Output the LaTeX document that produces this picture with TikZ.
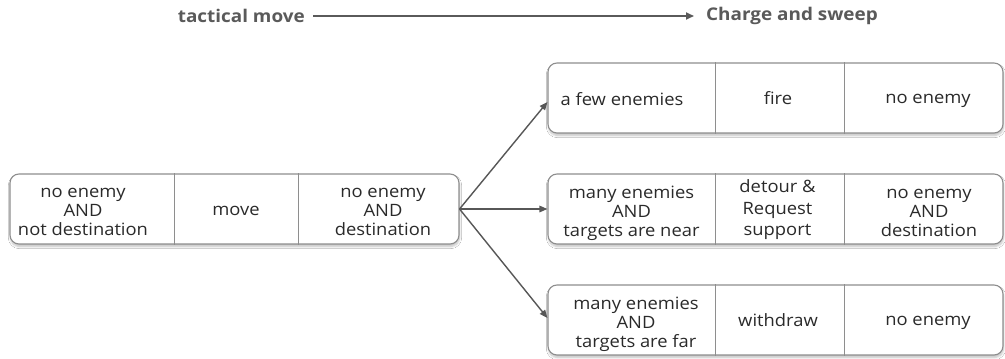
\documentclass[tikz,border=0pt]{standalone}
\usepackage{fontspec}
\setmainfont{Open Sans}[FakeStretch=1.08]
\usetikzlibrary{arrows.meta,shadows.blur}
\definecolor{boxgray}{HTML}{8E8E8E}
\definecolor{txtgray}{HTML}{2A2A2A}
\definecolor{arrgray}{HTML}{575757}
\definecolor{headgray}{HTML}{5A5A5A}
\begin{document}
\begin{tikzpicture}[x=1pt,y=-1pt,
  rowbox/.style={draw=boxgray, line width=1.1pt, rounded corners=9pt, fill=white,
    minimum height=70pt, inner sep=0pt,
    blur shadow={shadow xshift=0.5pt, shadow yshift=-2.5pt, shadow opacity=25, shadow blur steps=6}},
  divider/.style={draw=boxgray, line width=1.1pt},
  cell/.style={align=center, font=\fontsize{17}{19}\selectfont, text=txtgray, inner sep=0pt},
  conn/.style={draw=arrgray, line width=1.4pt, -{Triangle[length=8pt,width=6.5pt]}},
  head/.style={font=\fontsize{17.5}{19}\selectfont\bfseries, text=headgray, inner ysep=0pt},
  flow/.style={draw=headgray, line width=1.9pt, -{Triangle[length=8pt,width=7pt]}}
]
\useasboundingbox[fill=white] (0,0) rectangle (1005,359);

% heading: progression of the behaviour
\node[head, anchor=east, inner xsep=8pt] (tm) at (313,16) {tactical move};
\node[head, anchor=west, inner xsep=12pt] (cs) at (694,16) {Charge and sweep};
\draw[flow] (tm.east) -- (cs.west);

% rows
\node[rowbox, minimum width=449pt] (L)  at (234.5,209) {};
\node[rowbox, minimum width=455pt] (R1) at (775.5,98)  {};
\node[rowbox, minimum width=455pt] (R2) at (775.5,209) {};
\node[rowbox, minimum width=455pt] (R3) at (775.5,320) {};

% cell dividers
\foreach \r/\a/\b in {L/165/289, R1/168/297, R2/168/297, R3/168/297}{
  \draw[divider] ([xshift=\a pt]\r.north west) -- ([xshift=\a pt]\r.south west);
  \draw[divider] ([xshift=\b pt]\r.north west) -- ([xshift=\b pt]\r.south west);
}

% left row
\node[cell] (l1) at (83,212)  {no enemy\\AND\\not destination};
\node[cell] (l2) at (236,211) {move};
\node[cell] (l3) at (383,212) {no enemy\\AND\\destination};

% top right row
\node[cell] (a1) at (622,99) {a few enemies};
\node[cell] (a2) at (778,98) {fire};
\node[cell] (a3) at (928,101) {no enemy};

% middle right row
\node[cell] (b1) at (631.5,213) {many enemies\\AND\\targets are near};
\node[cell, font=\fontsize{17}{21.5}\selectfont] (b2) at (777.5,210) {detour \&\\Request\\support};
\node[cell] (b3) at (929,213) {no enemy\\AND\\destination};

% bottom right row
\node[cell] (c1) at (636,324) {many enemies\\AND\\targets are far};
\node[cell] (c2) at (778,320) {withdraw};
\node[cell] (c3) at (928,323) {no enemy};

% branching connectors
\draw[conn] (L.east) -- ([yshift=-4pt]R1.west);
\draw[conn] (L.east) -- (R2.west);
\draw[conn] (L.east) -- ([yshift=2pt]R3.west);
\end{tikzpicture}
\end{document}
